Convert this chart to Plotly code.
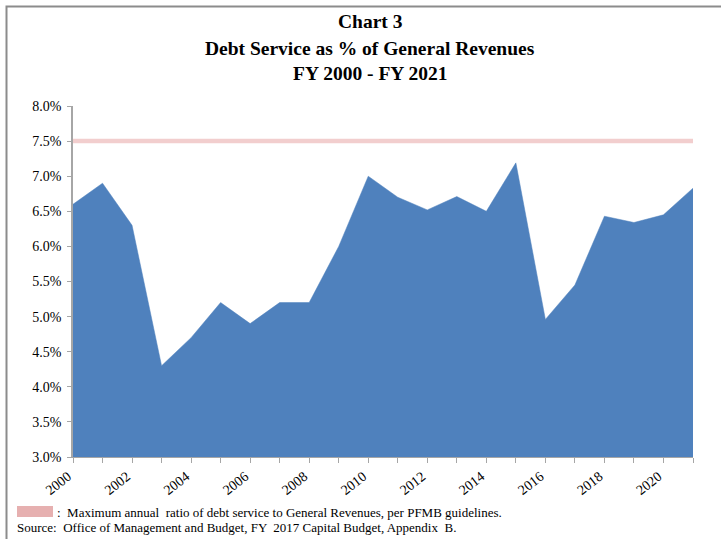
import plotly.graph_objects as go

years = list(range(2000, 2022))
debt_service_pct = [6.6, 6.9, 6.3, 4.3, 4.7, 5.2, 4.9, 5.2, 5.2, 6.0, 7.0,
                    6.7, 6.52, 6.71, 6.5, 7.19, 4.96, 5.45, 6.43, 6.34, 6.45, 6.83]
limit_pct = 7.5
y_ticks = [3.0, 3.5, 4.0, 4.5, 5.0, 5.5, 6.0, 6.5, 7.0, 7.5, 8.0]
x_label_years = list(range(2000, 2021, 2))

FONT = "Liberation Serif, Times New Roman, serif"
BLUE = "#4F81BD"
PINK = "#F2CECE"

fig = go.Figure()
fig.add_trace(go.Scatter(
    x=years, y=debt_service_pct, mode="lines", fill="tozeroy",
    fillcolor=BLUE, line=dict(color=BLUE, width=0.5), hoverinfo="x+y",
    showlegend=False))
fig.add_trace(go.Scatter(
    x=[years[0], years[-1]], y=[limit_pct, limit_pct], mode="lines",
    line=dict(color=PINK, width=4.5), showlegend=False))

W, H = 721, 539
L, R, T, B = 73, 28, 106, 82

fig.update_layout(
    width=W, height=H,
    margin=dict(l=L, r=R, t=T, b=B),
    paper_bgcolor="white", plot_bgcolor="white",
    font=dict(family=FONT, size=14, color="black"),
    xaxis=dict(
        range=[2000, 2021], tickmode="array", tickvals=x_label_years,
        ticktext=[str(y) for y in x_label_years], tickangle=-38,
        ticks="outside", ticklen=5, tickcolor="#A6A6A6",
        showline=True, linecolor="#A6A6A6", linewidth=1,
        showgrid=False, zeroline=False, ticklabelshift=-5,
        minor=dict(tickmode="array", tickvals=years, ticks="outside",
                   ticklen=5, tickcolor="#A6A6A6", showgrid=False),
        tickfont=dict(family=FONT, size=14)),
    yaxis=dict(
        range=[3, 8], tickmode="array", tickvals=y_ticks,
        ticktext=[f"{v:.1f}%" for v in y_ticks],
        ticks="outside", ticklen=4, tickcolor="#A6A6A6",
        showline=True, linecolor="#A6A6A6", linewidth=1.5,
        showgrid=False, zeroline=False, ticklabelstandoff=3,
        tickfont=dict(family=FONT, size=14)),
)

px = lambda x: (x - L) / (W - L - R)
py = lambda y: (H - B - y) / (H - T - B)

titles = ["Chart 3", "Debt Service as % of General Revenues", "FY 2000 - FY 2021"]
title_y = [22, 49, 74]
for t, yy in zip(titles, title_y):
    fig.add_annotation(text=f"<b>{t}</b>", x=px(370), y=py(yy), xref="paper", yref="paper",
                       showarrow=False, xanchor="center", yanchor="middle",
                       font=dict(family=FONT, size=19.5, color="black"))

fig.add_annotation(text=":  Maximum annual  ratio of debt service to General Revenues, per PFMB guidelines.",
                   x=px(55), y=py(512), xref="paper", yref="paper", showarrow=False,
                   xanchor="left", yanchor="middle", font=dict(family=FONT, size=13))
fig.add_annotation(text="Source:  Office of Management and Budget, FY  2017 Capital Budget, Appendix  B.",
                   x=px(15), y=py(527), xref="paper", yref="paper", showarrow=False,
                   xanchor="left", yanchor="middle", font=dict(family=FONT, size=13))

# legend swatch
fig.add_shape(type="rect", xref="paper", yref="paper",
              x0=px(17), x1=px(53), y0=py(517), y1=py(506),
              fillcolor="#E6B0B0", line=dict(width=0))
# outer frame (top and left visible)
fig.add_shape(type="rect", xref="paper", yref="paper",
              x0=px(6.5), x1=px(740), y0=py(560), y1=py(6.5),
              fillcolor="rgba(0,0,0,0)", line=dict(color="#8C8C8C", width=2))

fig.write_html("out.html", config={"displayModeBar": False},
               post_script="document.body.style.margin='0';document.body.style.overflow='hidden';")
